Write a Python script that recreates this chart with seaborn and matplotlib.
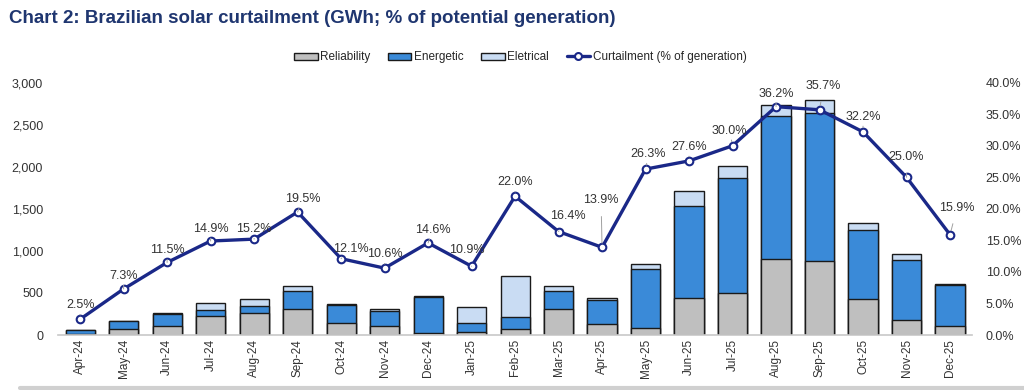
import numpy as np
import pandas as pd
import matplotlib
matplotlib.use("Agg")
import matplotlib.pyplot as plt
import seaborn as sns
from matplotlib.patches import Patch
from matplotlib.lines import Line2D


# ---------------------------------------------
# Data
# ---------------------------------------------
months = ["Apr-24", "May-24", "Jun-24", "Jul-24", "Aug-24", "Sep-24", "Oct-24",
          "Nov-24", "Dec-24", "Jan-25", "Feb-25", "Mar-25", "Apr-25", "May-25",
          "Jun-25", "Jul-25", "Aug-25", "Sep-25", "Oct-25", "Nov-25", "Dec-25"]

reliability = [10, 70, 110, 225, 265, 305, 140, 110, 25, 30, 70, 310, 125, 85,
               445, 495, 900, 885, 425, 175, 110]
energetic = [45, 95, 140, 75, 85, 215, 215, 170, 430, 115, 140, 210, 290, 695,
             1085, 1370, 1705, 1760, 825, 720, 490]
electrical = [5, 5, 10, 75, 80, 65, 10, 30, 5, 190, 490, 60, 20, 65,
              185, 150, 125, 155, 80, 65, 10]
curtail_pct = [2.5, 7.3, 11.5, 14.9, 15.2, 19.5, 12.1, 10.6, 14.6, 10.9, 22.0,
               16.4, 13.9, 26.3, 27.6, 30.0, 36.2, 35.7, 32.2, 25.0, 15.9]

# label offsets in pixels (style only)
label_dx = [0, 0, 0, 0, 0, 5, 10, 0, 5, -5, 0, 9, -1, 3, 0, -3, 0, 4, 0, 0, 7]
label_dy = [14, 13, 12, 12, 10, 13, 10, 14, 13, 16, 14, 16, 47, 15, 14, 15, 13, 24, 15, 20, 27]

C_REL = "#BFBFBF"
C_EN = "#3A8AD8"
C_EL = "#C9DCF3"
C_LINE = "#1A2888"
C_TITLE = "#1F3670"


def create_graph():

    sns.set_theme(style="white")
    plt.rcParams["font.family"] = ["Liberation Sans", "DejaVu Sans"]

    df = pd.DataFrame({
        "month": months,
        "rel": reliability,
        "en": energetic,
        "el": electrical,
    })
    df["rel_en"] = df["rel"] + df["en"]
    df["total"] = df["rel_en"] + df["el"]

    fig, ax = plt.subplots(figsize=(10.24, 3.9), dpi=100)
    fig.subplots_adjust(left=0.057, right=0.949, bottom=0.141, top=0.788)

    # stacked bars: draw cumulative totals, biggest first
    for col, color in [("total", C_EL), ("rel_en", C_EN), ("rel", C_REL)]:
        sns.barplot(data=df, x="month", y=col, color=color, width=0.67,
                    edgecolor="#1a1a1a", linewidth=1.0, saturation=1,
                    errorbar=None, ax=ax)

    ax.set_ylim(0, 3000)
    ax.set_yticks(np.arange(0, 3001, 500))
    ax.set_yticklabels([f"{v:,}" for v in range(0, 3001, 500)])
    ax.set_xlabel("")
    ax.set_ylabel("")
    ax.tick_params(axis="y", length=0, labelsize=9, colors="#333333", pad=11)
    ax.tick_params(axis="x", length=0, labelsize=8.5, colors="#333333",
                   rotation=90, pad=3)
    ax.set_xticks(np.arange(-0.5, len(months), 1), minor=True)
    ax.tick_params(axis="x", which="minor", length=4, color="#C8C8C8", width=1)
    for s in ["top", "left", "right"]:
        ax.spines[s].set_visible(False)
    ax.spines["bottom"].set_color("#C8C8C8")
    ax.spines["bottom"].set_linewidth(1.2)

    # curtailment line on the secondary axis
    ax2 = ax.twinx()
    sns.lineplot(x=np.arange(len(months)), y=curtail_pct, ax=ax2, sort=False,
                 color=C_LINE, linewidth=2.4, marker="o", markersize=5.5,
                 markerfacecolor="white", markeredgecolor=C_LINE,
                 markeredgewidth=1.5, zorder=5)
    ax2.set_ylim(0, 40)
    ax2.set_yticks(np.arange(0, 41, 5))
    ax2.set_yticklabels([f"{v:.1f}%" for v in range(0, 41, 5)])
    ax2.tick_params(axis="y", length=0, labelsize=9, colors="#333333", pad=10)
    for s in ["top", "left", "right", "bottom"]:
        ax2.spines[s].set_visible(False)
    ax.set_xlim(-0.5, len(months) - 0.5)
    ax2.set_xlim(-0.5, len(months) - 0.5)

    for i, p in enumerate(curtail_pct):
        ax2.annotate(
            f"{p:.1f}%", xy=(i, p),
            xytext=(label_dx[i], label_dy[i]), textcoords="offset pixels",
            ha="center", va="center", fontsize=9, color="#333333",
            arrowprops=dict(arrowstyle="-", color="#A0A0A0", lw=0.7,
                            shrinkA=5, shrinkB=3),
            zorder=6,
        )

    # legend
    handles = [
        Patch(facecolor=C_REL, edgecolor="#1a1a1a", linewidth=1.0, label="Reliability"),
        Patch(facecolor=C_EN, edgecolor="#1a1a1a", linewidth=1.0, label="Energetic"),
        Patch(facecolor=C_EL, edgecolor="#1a1a1a", linewidth=1.0, label="Eletrical"),
        Line2D([0], [0], color=C_LINE, linewidth=2.4, marker="o", markersize=5,
               markerfacecolor="white", markeredgewidth=1.5,
               label="Curtailment (% of generation)"),
    ]
    fig.legend(handles=handles, loc="center", bbox_to_anchor=(0.508, 0.853),
               ncol=4, frameon=False, fontsize=8.5, handlelength=2.0,
               handleheight=0.55, handletextpad=0.2, columnspacing=1.5)

    fig.text(0.009, 0.953,
             "Chart 2: Brazilian solar curtailment (GWh; % of potential generation)",
             fontsize=13.5, fontweight="bold", color=C_TITLE,
             ha="left", va="center")

    # thin grey strip at the bottom edge, as in the source image
    fig.add_artist(plt.Line2D([0.02, 1.0], [0.006, 0.006], color="#D0D0D0",
                              linewidth=3, transform=fig.transFigure))

    fig.savefig("out.png", dpi=100, facecolor="white")


if __name__ == "__main__":
    create_graph()
